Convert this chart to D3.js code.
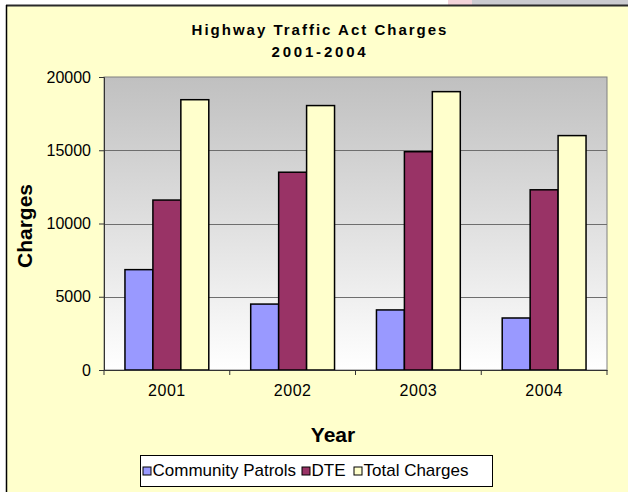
<!DOCTYPE html>
<html>
<head>
<meta charset="utf-8">
<script src="https://cdn.jsdelivr.net/npm/d3@7"></script>
<style>
  html, body { margin: 0; padding: 0; background: #ffffff; }
  svg { display: block; font-family: "Liberation Sans", Arial, sans-serif; }
</style>
</head>
<body>
<div id="chart"></div>
<script>
// 数据
const years = ['2001', '2002', '2003', '2004'];
const seriesNames = ['Community Patrols', 'DTE', 'Total Charges'];
const communityPatrols = [6850, 4500, 4100, 3550];
const dte = [11600, 13500, 14900, 12300];
const totalCharges = [18450, 18050, 19000, 16000];
const yTicks = [0, 5000, 10000, 15000, 20000];
const seriesColors = ['#9999ff', '#993366', '#ffffcc'];

const width = 628, height = 492;
const plot = { left: 104, right: 607, top: 77, bottom: 370 };

const rows = years.map((y, i) => ({
    year: y,
    values: [communityPatrols[i], dte[i], totalCharges[i]]
}));

const svg = d3.select('#chart')
    .append('svg')
    .attr('width', width)
    .attr('height', height);

// 外框背景
svg.append('rect')
    .attr('x', 0).attr('y', 0)
    .attr('width', width).attr('height', height)
    .attr('fill', '#ffffff');
svg.append('rect')
    .attr('x', 448).attr('y', 0)
    .attr('width', 24).attr('height', 5)
    .attr('fill', '#f3d3da');
svg.append('rect')
    .attr('x', 472).attr('y', 0)
    .attr('width', width - 472).attr('height', 5)
    .attr('fill', '#cbcbd0');
svg.append('rect')
    .attr('x', 6).attr('y', 5)
    .attr('width', width - 6).attr('height', height - 5)
    .attr('fill', '#ffffcc');
svg.append('line')
    .attr('x1', 6).attr('x2', width)
    .attr('y1', 5.5).attr('y2', 5.5)
    .attr('stroke', '#2a2a2a').attr('stroke-width', 2);
svg.append('line')
    .attr('x1', 6.5).attr('x2', 6.5)
    .attr('y1', 5).attr('y2', height)
    .attr('stroke', '#000').attr('stroke-width', 1.5);

// 绘图区渐变
const defs = svg.append('defs');
const grad = defs.append('linearGradient')
    .attr('id', 'plotGrad')
    .attr('x1', 0).attr('y1', 0).attr('x2', 0).attr('y2', 1);
grad.append('stop').attr('offset', '0%').attr('stop-color', '#c0c0c0');
grad.append('stop').attr('offset', '100%').attr('stop-color', '#ffffff');

svg.append('rect')
    .attr('x', plot.left).attr('y', plot.top)
    .attr('width', plot.right - plot.left)
    .attr('height', plot.bottom - plot.top)
    .attr('fill', 'url(#plotGrad)')
    .attr('stroke', '#808080')
    .attr('stroke-width', 1);

// 比例尺
const x0 = d3.scaleBand()
    .domain(years)
    .range([plot.left, plot.right])
    .paddingInner(1 / 3)
    .paddingOuter(1 / 6);

const x1 = d3.scaleBand()
    .domain(seriesNames)
    .range([0, x0.bandwidth()]);

const y = d3.scaleLinear()
    .domain([0, 20000])
    .range([plot.bottom, plot.top]);

// 网格线
svg.append('g')
    .selectAll('line')
    .data(yTicks.filter(t => t > 0 && t < 20000))
    .enter()
    .append('line')
    .attr('x1', plot.left).attr('x2', plot.right)
    .attr('y1', d => Math.round(y(d)) + 0.5)
    .attr('y2', d => Math.round(y(d)) + 0.5)
    .attr('stroke', '#6e6e6e')
    .attr('stroke-width', 1);

// 柱子
const groups = svg.append('g')
    .selectAll('g')
    .data(rows)
    .enter()
    .append('g')
    .attr('transform', d => `translate(${x0(d.year)},0)`);

groups.selectAll('rect')
    .data(d => d.values.map((v, i) => ({ name: seriesNames[i], value: v, i: i })))
    .enter()
    .append('rect')
    .attr('x', d => x1(d.name))
    .attr('y', d => y(d.value))
    .attr('width', x1.bandwidth())
    .attr('height', d => y(0) - y(d.value))
    .attr('fill', d => seriesColors[d.i])
    .attr('stroke', '#000')
    .attr('stroke-width', 1.5);

// Y 轴
const yAxis = svg.append('g')
    .attr('transform', `translate(${plot.left},0)`)
    .call(d3.axisLeft(y)
        .tickValues(yTicks)
        .tickFormat(d3.format('d'))
        .tickSize(5)
        .tickPadding(8));
yAxis.select('.domain').attr('stroke', '#333');
yAxis.selectAll('.tick line').attr('stroke', '#333');
yAxis.selectAll('text')
    .attr('font-size', '16px')
    .attr('fill', '#000')
    .style('font-family', '"Liberation Sans", Arial, sans-serif');

// X 轴
const xAxis = svg.append('g')
    .attr('transform', `translate(0,${plot.bottom})`)
    .call(d3.axisBottom(x0).tickSize(0).tickPadding(15));
xAxis.select('.domain').attr('stroke', '#333');
xAxis.selectAll('text')
    .attr('font-size', '16px')
    .attr('fill', '#000')
    .style('letter-spacing', '0.5px')
    .style('font-family', '"Liberation Sans", Arial, sans-serif');

// 类别分界刻度
xAxis.selectAll('.sep')
    .data(d3.range(years.length + 1))
    .enter()
    .append('line')
    .attr('class', 'sep')
    .attr('x1', i => plot.left + i * x0.step())
    .attr('x2', i => plot.left + i * x0.step())
    .attr('y1', 0).attr('y2', 5)
    .attr('stroke', '#333');

// 标题
const title = svg.append('text')
    .attr('text-anchor', 'middle')
    .attr('font-weight', 'bold')
    .attr('font-size', '15px')
    .attr('fill', '#000');
title.append('tspan')
    .attr('x', 320).attr('y', 35)
    .style('letter-spacing', '2px')
    .text('Highway Traffic Act Charges');
title.append('tspan')
    .attr('x', 320).attr('y', 56.5)
    .style('letter-spacing', '2.8px')
    .text('2001-2004');

// 轴标题
svg.append('text')
    .attr('transform', 'translate(32,226) rotate(-90)')
    .attr('text-anchor', 'middle')
    .attr('font-weight', 'bold')
    .attr('font-size', '21px')
    .text('Charges');

svg.append('text')
    .attr('x', 333).attr('y', 441.5)
    .attr('text-anchor', 'middle')
    .attr('font-weight', 'bold')
    .attr('font-size', '21px')
    .text('Year');

// 图例
const legendItemX = [142.5, 301.5, 353.5];
const legend = svg.append('g');
legend.append('rect')
    .attr('x', 140.5).attr('y', 455.5)
    .attr('width', 352).attr('height', 31)
    .attr('fill', '#ffffff')
    .attr('stroke', '#000')
    .attr('stroke-width', 1);

const items = legend.selectAll('.item')
    .data(seriesNames)
    .enter()
    .append('g')
    .attr('class', 'item')
    .attr('transform', (d, i) => `translate(${legendItemX[i]},0)`);
items.append('rect')
    .attr('x', 0.5).attr('y', 467)
    .attr('width', 8).attr('height', 8)
    .attr('fill', (d, i) => seriesColors[i])
    .attr('stroke', '#000')
    .attr('stroke-width', 1);
items.append('text')
    .attr('x', 10).attr('y', 476)
    .attr('font-size', '17px')
    .text(d => d);
</script>
</body>
</html>
